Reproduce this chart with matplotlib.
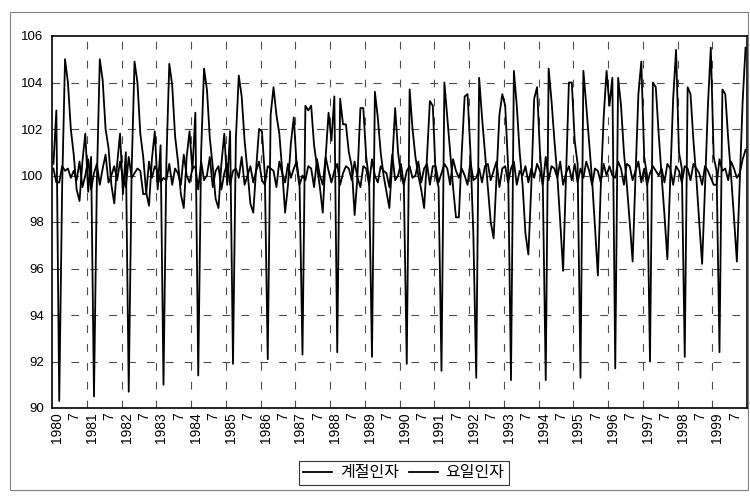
import matplotlib
matplotlib.use("Agg")
import matplotlib.pyplot as plt
from matplotlib.patches import Rectangle
import numpy as np

plt.rcParams['font.family'] = ['Noto Sans CJK KR', 'DejaVu Sans']

years = list(range(1980, 2000))

# 계절인자 (월별, 1~12월)
seasonal_1980 = [100.5, 102.8, 90.3, 99.5, 105.0, 104.0, 102.0, 100.9, 99.4, 98.9, 100.6, 101.8]
seasonal_1981 = [99.3, 100.8, 90.5, 99.8, 105.0, 104.1, 102.0, 101.2, 99.6, 98.8, 100.5, 101.8]
seasonal_1982 = [99.2, 101.0, 90.7, 100.2, 104.9, 104.0, 101.8, 100.8, 99.3, 98.7, 100.7, 101.9]
seasonal_1983 = [99.4, 101.3, 91.0, 100.6, 104.8, 103.9, 101.7, 100.6, 99.2, 98.6, 100.8, 101.9]
seasonal_1984 = [100.2, 102.7, 91.4, 101.0, 104.6, 103.7, 101.6, 100.4, 99.0, 98.6, 100.5, 101.8]
seasonal_1985 = [99.6, 101.9, 91.9, 101.6, 104.3, 103.4, 101.5, 100.2, 98.8, 98.4, 100.3, 102.0]
seasonal_1986 = [101.9, 100.0, 92.1, 102.6, 103.8, 102.6, 101.8, 100.2, 98.4, 99.6, 101.4, 102.5]
seasonal_1987 = [100.4, 99.5, 92.3, 103.0, 102.8, 103.0, 101.3, 100.4, 99.5, 98.4, 100.8, 102.7]
seasonal_1988 = [101.5, 103.4, 92.4, 103.3, 102.2, 102.2, 101.0, 100.4, 98.3, 100.0, 102.9, 102.9]
seasonal_1989 = [100.8, 99.8, 92.2, 103.6, 102.5, 101.0, 100.0, 99.3, 98.6, 100.6, 102.9, 101.0]
seasonal_1990 = [100.0, 99.6, 91.9, 103.7, 102.0, 100.8, 100.0, 99.4, 98.6, 100.8, 103.2, 103.0]
seasonal_1991 = [100.0, 99.5, 91.6, 104.0, 102.5, 101.0, 99.5, 98.2, 98.2, 101.0, 103.4, 103.5]
seasonal_1992 = [101.0, 97.5, 91.3, 104.2, 102.5, 101.0, 99.5, 98.0, 97.3, 100.0, 102.6, 103.5]
seasonal_1993 = [103.0, 100.4, 91.2, 104.5, 103.0, 101.0, 99.6, 97.5, 96.6, 99.5, 103.3, 103.8]
seasonal_1994 = [101.0, 99.5, 91.2, 104.6, 103.2, 101.5, 100.0, 98.0, 95.9, 100.0, 104.0, 104.0]
seasonal_1995 = [101.5, 100.5, 91.3, 104.5, 103.0, 101.4, 99.8, 97.8, 95.7, 99.5, 102.5, 104.5]
seasonal_1996 = [103.0, 104.2, 91.7, 104.2, 103.0, 101.0, 99.6, 98.0, 96.3, 100.0, 103.5, 104.9]
seasonal_1997 = [100.8, 100.0, 92.0, 104.0, 103.8, 101.8, 100.0, 98.3, 96.4, 99.8, 103.3, 105.4]
seasonal_1998 = [101.0, 100.3, 92.2, 103.8, 103.5, 101.5, 99.9, 98.0, 96.2, 99.5, 103.0, 105.5]
seasonal_1999 = [100.8, 100.2, 92.4, 103.7, 103.5, 101.6, 100.0, 98.2, 96.3, 99.7, 103.2, 105.5]

# 요일인자 (월별, 1~12월)
tradeday_1980 = [100.3, 99.7, 99.7, 100.4, 100.2, 100.3, 99.9, 100.2, 99.8, 100.6, 99.5, 100.0]
tradeday_1981 = [100.7, 99.4, 100.1, 100.5, 99.6, 100.3, 100.9, 99.7, 100.0, 100.4, 99.8, 100.6]
tradeday_1982 = [99.9, 99.5, 100.8, 99.9, 100.1, 100.3, 100.2, 99.2, 99.2, 100.6, 99.9, 100.4]
tradeday_1983 = [100.2, 99.7, 99.9, 99.8, 100.5, 99.6, 100.3, 100.1, 99.6, 100.9, 100.0, 99.7]
tradeday_1984 = [100.3, 100.4, 99.4, 100.6, 99.8, 100.0, 100.8, 99.5, 100.2, 100.4, 99.4, 100.1]
tradeday_1985 = [100.5, 99.6, 100.2, 100.3, 99.9, 100.8, 99.6, 100.0, 100.4, 99.7, 100.2, 100.6]
tradeday_1986 = [99.8, 99.6, 100.4, 100.3, 100.2, 99.5, 100.6, 100.1, 99.7, 100.5, 99.9, 100.3]
tradeday_1987 = [100.6, 99.6, 100.0, 99.8, 100.4, 100.3, 99.5, 100.7, 100.0, 99.6, 100.8, 100.2]
tradeday_1988 = [99.7, 100.2, 100.5, 99.6, 100.1, 100.4, 100.3, 99.8, 100.6, 99.9, 99.5, 100.4]
tradeday_1989 = [100.3, 99.6, 100.7, 100.0, 99.7, 100.4, 100.2, 100.1, 99.5, 100.9, 99.8, 100.0]
tradeday_1990 = [100.5, 99.6, 100.2, 100.4, 99.9, 100.0, 100.6, 99.7, 100.3, 100.5, 99.6, 100.4]
tradeday_1991 = [100.4, 99.7, 100.1, 100.5, 100.3, 99.6, 100.7, 100.2, 99.9, 100.3, 100.0, 99.6]
tradeday_1992 = [100.6, 99.8, 99.9, 100.3, 99.7, 100.4, 100.5, 99.8, 100.2, 100.6, 99.5, 100.3]
tradeday_1993 = [100.4, 99.7, 100.3, 100.6, 99.6, 100.2, 100.0, 100.4, 99.7, 100.3, 99.9, 100.5]
tradeday_1994 = [100.2, 99.6, 100.8, 99.8, 100.4, 100.3, 99.9, 100.6, 99.6, 100.1, 100.4, 99.8]
tradeday_1995 = [100.5, 99.7, 100.3, 99.9, 100.6, 100.2, 99.6, 100.3, 100.2, 99.7, 100.5, 100.0]
tradeday_1996 = [100.4, 100.0, 99.9, 100.6, 100.3, 99.6, 100.5, 100.4, 99.8, 100.2, 100.6, 99.7]
tradeday_1997 = [100.3, 99.6, 100.1, 100.4, 100.2, 100.0, 100.3, 99.7, 100.5, 100.3, 99.6, 100.4]
tradeday_1998 = [100.2, 99.7, 100.4, 100.3, 99.8, 100.5, 100.3, 100.1, 99.6, 100.4, 100.2, 99.9]
tradeday_1999 = [99.6, 99.6, 100.7, 100.2, 100.3, 99.8, 100.6, 100.3, 99.9, 100.1, 100.7, 101.1]

seasonal = np.array(seasonal_1980 + seasonal_1981 + seasonal_1982 + seasonal_1983 + seasonal_1984
                    + seasonal_1985 + seasonal_1986 + seasonal_1987 + seasonal_1988 + seasonal_1989
                    + seasonal_1990 + seasonal_1991 + seasonal_1992 + seasonal_1993 + seasonal_1994
                    + seasonal_1995 + seasonal_1996 + seasonal_1997 + seasonal_1998 + seasonal_1999)
tradeday = np.array(tradeday_1980 + tradeday_1981 + tradeday_1982 + tradeday_1983 + tradeday_1984
                    + tradeday_1985 + tradeday_1986 + tradeday_1987 + tradeday_1988 + tradeday_1989
                    + tradeday_1990 + tradeday_1991 + tradeday_1992 + tradeday_1993 + tradeday_1994
                    + tradeday_1995 + tradeday_1996 + tradeday_1997 + tradeday_1998 + tradeday_1999)

# 축 라벨: 연도와 7월
tick_labels = []
for y in years:
    tick_labels += [str(y), '7']

x = np.arange(len(seasonal))

fig = plt.figure(figsize=(7.5, 4.97), dpi=100)
ax = fig.add_axes([52 / 750, 1 - 408 / 497, 695 / 750, 372 / 497])

ax.plot(x, seasonal, color='black', linewidth=1.3, label='계절인자')
ax.plot(x, tradeday, color='black', linewidth=1.3, label='요일인자')

ax.set_xlim(-0.5, len(x) - 0.5)
ax.set_ylim(90, 106)
ax.set_yticks(range(90, 107, 2))
ax.set_yticklabels([str(v) for v in range(90, 107, 2)], family=['Liberation Sans'], fontsize=9.5)
ax.tick_params(axis='y', length=0, pad=6)

# 격자 (점선)
for yy in range(92, 106, 2):
    ax.axhline(yy, color='0.3', linewidth=0.8, dashes=(7, 10), zorder=0)
for k in range(1, 20):
    ax.axvline(12 * k - 0.5, color='0.3', linewidth=0.8, dashes=(7, 10), zorder=0)

ax.set_xticks([6 * k + 1.3 for k in range(len(tick_labels))])
ax.set_xticklabels(tick_labels, rotation=90, fontsize=10, family=['Liberation Sans'])
ax.tick_params(axis='x', length=0, pad=3)

for s in ax.spines.values():
    s.set_linewidth(1.2)

leg = fig.legend(loc='center', bbox_to_anchor=(404 / 750, 1 - 473 / 497), ncol=2,
                 frameon=True, fancybox=False, edgecolor='black', fontsize=11.5,
                 handlelength=1.8, handletextpad=0.5, columnspacing=0.6,
                 borderpad=0.25)
leg.get_frame().set_linewidth(0.8)

# 차트 영역 테두리
fig.patches.append(Rectangle((10 / 750, 1 - 490 / 497), 738 / 750, 478 / 497,
                             transform=fig.transFigure, fill=False,
                             edgecolor='0.5', linewidth=0.8))

fig.savefig('out.png', dpi=100)
